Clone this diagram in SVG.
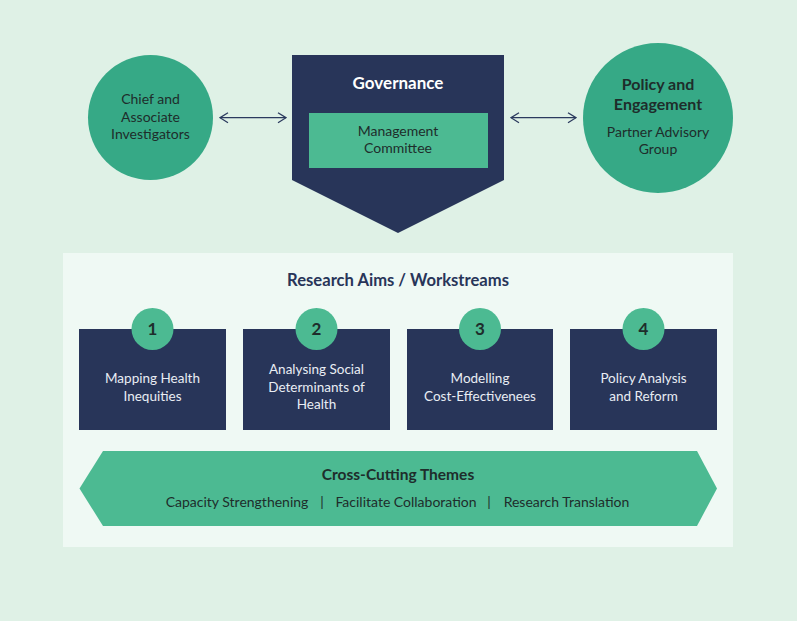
<svg xmlns="http://www.w3.org/2000/svg" width="797" height="621" viewBox="0 0 797 621">
<defs>
<marker id="chev" viewBox="0 0 10 12" refX="9" refY="6" markerWidth="10" markerHeight="12" markerUnits="userSpaceOnUse" orient="auto-start-reverse">
<polyline points="1,1 9,6 1,11" fill="none" stroke="#2b3a5e" stroke-width="1.3"/>
</marker>
<style>
text{font-family:Lato,"Noto Sans","Liberation Sans",sans-serif;text-anchor:middle}
.dk{fill:#1e2d2b;font-size:14px}
.dkb{fill:#1e2d2b;font-size:16px;font-weight:bold}
.wb{fill:#ffffff;font-size:17px;font-weight:bold}
.wt{fill:#e9edf4;font-size:13.5px}
.num{fill:#1e2d2b;font-size:17px;font-weight:bold}
.navy{fill:#283559}
.gl{fill:#4cba92}
.gd{fill:#36a986}
.conn{stroke:#2b3a5e;stroke-width:1.3;fill:none;marker-start:url(#chev);marker-end:url(#chev)}
</style>
</defs>
<rect x="0" y="0" width="797" height="621" fill="#dff1e6"/>
<g id="chief">
<circle class="gd" cx="150.5" cy="117.5" r="62.5"/>
<text class="dk" x="150.5" y="104">Chief and</text>
<text class="dk" x="150.5" y="122">Associate</text>
<text class="dk" x="150.5" y="139">Investigators</text>
</g>
<g id="governance">
<polygon class="navy" points="292,55 504,55 504,180 398,233 292,180"/>
<text class="wb" x="398" y="89">Governance</text>
</g>
<g id="management">
<rect class="gl" x="309" y="113" width="179" height="55"/>
<text class="dk" x="398" y="136">Management</text>
<text class="dk" x="398" y="153">Committee</text>
</g>
<g id="policy">
<circle class="gd" cx="658" cy="118" r="75"/>
<text class="dkb" x="658" y="90">Policy and</text>
<text class="dkb" x="658" y="110">Engagement</text>
<text class="dk" x="658" y="137">Partner Advisory</text>
<text class="dk" x="658" y="154">Group</text>
</g>
<g id="connectors">
<line class="conn" x1="220" y1="117.7" x2="286" y2="117.7"/>
<line class="conn" x1="511" y1="117.7" x2="576" y2="117.7"/>
</g>
<g id="research">
<rect x="63" y="253" width="670" height="294" fill="#eff9f4"/>
<text x="398" y="286" style="fill:#283559;font-size:16.6px;font-weight:bold">Research Aims / Workstreams</text>
</g>
<g id="aim1">
<rect class="navy" x="79" y="329" width="147" height="101"/>
<circle class="gl" cx="152.5" cy="329" r="21"/>
<text class="num" x="152.5" y="335">1</text>
<text class="wt" x="152.5" y="383">Mapping Health</text>
<text class="wt" x="152.5" y="401">Inequities</text>
</g>
<g id="aim2">
<rect class="navy" x="243" y="329" width="147" height="101"/>
<circle class="gl" cx="316.5" cy="329" r="21"/>
<text class="num" x="316.5" y="335">2</text>
<text class="wt" x="316.5" y="374">Analysing Social</text>
<text class="wt" x="316.5" y="392">Determinants of</text>
<text class="wt" x="316.5" y="409">Health</text>
</g>
<g id="aim3">
<rect class="navy" x="407" y="329" width="146" height="101"/>
<circle class="gl" cx="480" cy="329" r="21"/>
<text class="num" x="480" y="335">3</text>
<text class="wt" x="480" y="383">Modelling</text>
<text class="wt" x="480" y="401">Cost-Effectivenees</text>
</g>
<g id="aim4">
<rect class="navy" x="570" y="329" width="147" height="101"/>
<circle class="gl" cx="643.5" cy="329" r="21"/>
<text class="num" x="643.5" y="335">4</text>
<text class="wt" x="643.5" y="383">Policy Analysis</text>
<text class="wt" x="643.5" y="401">and Reform</text>
</g>
<g id="crosscutting">
<polygon class="gl" points="79.5,488.5 103,451 697,451 717,488.5 697,526 103,526"/>
<text x="398" y="480" style="fill:#1e2d2b;font-size:15.5px;font-weight:bold">Cross-Cutting Themes</text>
<text class="dk" x="237" y="507">Capacity Strengthening</text>
<text class="dk" x="322" y="507">|</text>
<text class="dk" x="406" y="507">Facilitate Collaboration</text>
<text class="dk" x="489" y="507">|</text>
<text class="dk" x="566.5" y="507">Research Translation</text>
</g>
</svg>
